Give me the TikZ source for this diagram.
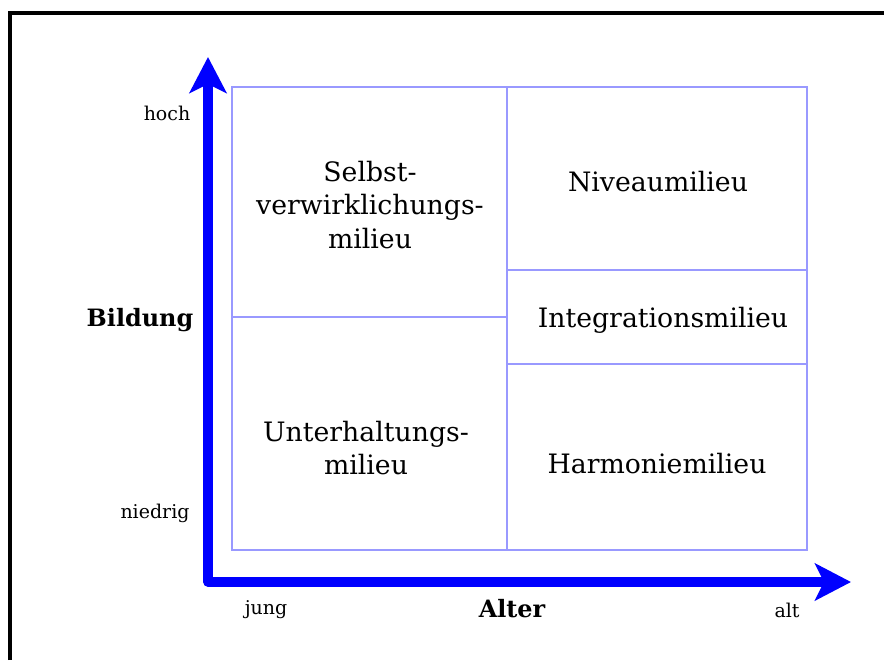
\documentclass[tikz,border=0pt]{standalone}
\usepackage{fontspec}
\setmainfont{DejaVu Serif}
\usetikzlibrary{arrows.meta}
\tikzset{>={Stealth[length=0.36cm, width=0.37cm, inset=0.09cm]}}
\tikzset{
  cell/.style={align=center, font=\fontsize{7.6}{9.5}\selectfont},
  tick/.style={font=\fontsize{5.4}{6}\selectfont},
  axislabel/.style={font=\fontsize{6.8}{7}\selectfont\bfseries}}

\begin{document}
\begin{tikzpicture}
\useasboundingbox (0,0) rectangle (8.84,6.60);
% frame
\draw[line width=1pt] (0.10,0)--(0.10,6.47)--(8.84,6.47);
% axes
\draw[blue, line width=2.6pt, line join=round, <->] (2.08,6.03)--(2.08,0.78)--(8.51,0.78);
% milieus
\draw[blue!40, line width=0.5pt] (2.32,1.10) rectangle (8.07,5.73);
\draw[blue!40, line width=0.5pt] (5.07,1.10)--(5.07,5.73);
\draw[blue!40, line width=0.5pt] (2.32,3.43)--(5.07,3.43);
\draw[blue!40, line width=0.5pt] (5.07,3.90)--(8.07,3.90);
\draw[blue!40, line width=0.5pt] (5.07,2.96)--(8.07,2.96);
\node[cell] (selbst) at (3.70,4.55) {Selbst-\\verwirklichungs-\\milieu};
\node[cell] (niveau) at (6.58,4.78) {Niveaumilieu};
\node[cell] (integ) at (6.63,3.40) {Integrationsmilieu};
\node[cell] (unter) at (3.66,2.12) {Unterhaltungs-\\milieu};
\node[cell] (harm) at (6.57,1.96) {Harmoniemilieu};
% labels
\node[tick] (hoch) at (1.67,5.47) {hoch};
\node[tick] (niedrig) at (1.55,1.47) {niedrig};
\node[axislabel] (bildung) at (1.40,3.40) {Bildung};
\node[tick] (jung) at (2.66,0.50) {jung};
\node[axislabel] (alter) at (5.12,0.51) {Alter};
\node[tick] (alt) at (7.87,0.50) {alt};
\end{tikzpicture}
\end{document}
